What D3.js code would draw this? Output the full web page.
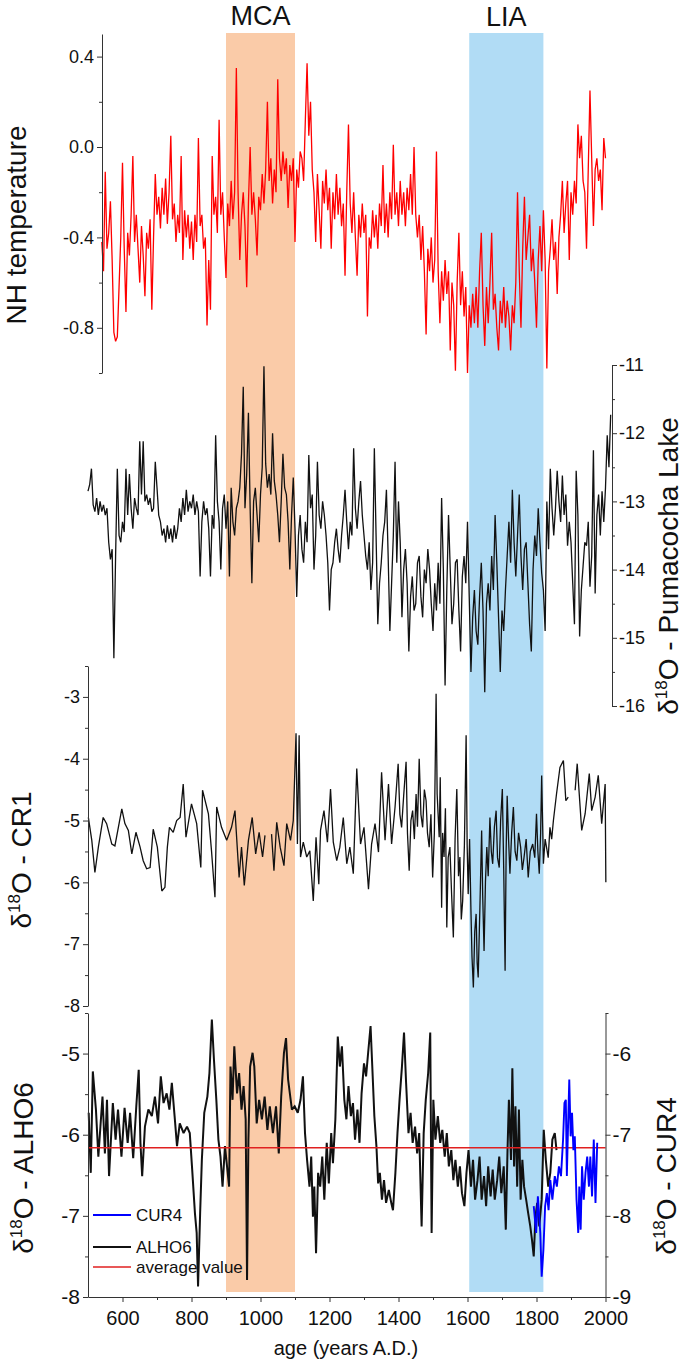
<!DOCTYPE html>
<html>
<head>
<meta charset="utf-8">
<script src="https://cdnjs.cloudflare.com/ajax/libs/d3/7.8.5/d3.min.js"></script>
<style>
  body { margin: 0; background: #fff; }
  text { font-family: "Liberation Sans", Arial, sans-serif; }
</style>
</head>
<body>
<div id="chart"></div>
<script>
// ---- data ----
var periodNames = ["MCA", "LIA"];
var periodStart = [900, 1605];
var periodEnd = [1100, 1820];
var periodColors = ["#facba8", "#b1dcf5"];

var yearTicks = [600, 800, 1000, 1200, 1400, 1600, 1800, 2000];
var yearMinor = [700, 900, 1100, 1300, 1500, 1700, 1900];

// NH temperature, one value every 5 years from 540
var nhStart = 540, nhStep = 5;
var nhTemp = [
  -0.42,-0.55,-0.11,-0.45,-0.38,-0.24,-0.5,-0.82,-0.86,-0.84,
  -0.62,-0.4,-0.07,-0.45,-0.73,-0.38,-0.48,-0.3,-0.04,-0.42,
  -0.3,-0.45,-0.6,-0.35,-0.48,-0.66,-0.38,-0.45,-0.32,-0.72,
  -0.4,-0.12,-0.3,-0.22,-0.36,-0.18,-0.3,-0.14,-0.34,-0.2,
  0.05,-0.32,-0.25,-0.42,-0.3,-0.38,-0.04,-0.5,-0.28,-0.4,
  -0.3,-0.45,-0.33,-0.5,-0.3,-0.42,0.04,-0.35,-0.3,-0.45,
  -0.4,-0.79,-0.5,-0.72,-0.04,-0.3,-0.22,-0.38,0.12,-0.3,
  -0.2,-0.4,-0.58,-0.25,-0.35,-0.15,-0.32,-0.2,0.35,-0.2,
  -0.5,-0.3,-0.2,-0.35,-0.62,-0.25,0.0,-0.3,-0.2,-0.32,
  -0.48,-0.22,-0.28,-0.12,-0.25,-0.1,0.2,-0.15,-0.05,-0.25,
  -0.1,-0.2,0.3,-0.05,-0.15,-0.02,-0.12,-0.05,-0.27,-0.08,
  -0.15,-0.05,-0.42,-0.1,-0.18,-0.02,-0.05,-0.15,0.12,0.37,
  0.05,0.2,-0.1,-0.2,-0.42,-0.12,-0.28,-0.45,-0.15,-0.25,
  -0.1,-0.28,-0.18,-0.45,-0.2,-0.32,-0.12,-0.3,-0.18,-0.35,
  -0.25,-0.57,-0.2,0.1,-0.25,-0.38,-0.2,-0.4,-0.57,-0.3,
  -0.4,-0.25,-0.38,-0.3,-0.75,-0.4,-0.45,-0.28,-0.4,-0.3,
  -0.45,-0.25,-0.35,-0.08,-0.38,-0.25,-0.4,-0.2,-0.32,0.01,
  -0.3,-0.2,-0.35,-0.15,-0.3,-0.2,-0.35,-0.18,-0.28,-0.12,
  -0.3,0.0,-0.3,-0.4,-0.3,-0.5,-0.35,-0.55,-0.83,-0.45,
  -0.55,-0.4,-0.6,-0.5,-0.02,-0.55,-0.78,-0.55,-0.68,-0.5,
  -0.65,-0.55,-0.9,-0.6,-0.7,-0.99,-0.6,-0.38,-0.7,-0.55,
  -0.75,-0.62,-1.0,-0.7,-0.8,-0.65,-0.78,-0.62,-0.8,-0.55,
  -0.38,-0.7,-0.88,-0.62,-0.78,-0.6,-0.38,-0.72,-0.65,-0.8,
  -0.9,-0.68,-0.78,-0.62,-0.8,-0.68,-0.75,-0.9,-0.7,-0.78,
  -0.6,-0.2,-0.55,-0.8,-0.45,-0.22,-0.5,-0.4,-0.3,-0.55,
  -0.45,-0.6,-0.8,-0.5,-0.35,-0.55,-0.28,-0.5,-0.98,-0.55,
  -0.45,-0.32,-0.5,-0.42,-0.65,-0.4,-0.3,-0.15,-0.38,-0.25,
  -0.15,-0.5,-0.2,-0.3,-0.15,-0.25,0.1,-0.05,0.05,-0.15,
  -0.2,-0.45,-0.1,0.25,-0.05,-0.35,-0.1,-0.05,-0.15,-0.1,
  -0.28,0.04,-0.05
];
var nhTicks = [-0.8, -0.4, 0.0, 0.4];
var nhMinor = [-1.0, -0.6, -0.2, 0.2];

// Pumacocha Lake d18O, every 5 years from 500
var pumaStart = 500, pumaStep = 5;
var pumaD18O = [
  -12.85,-12.75,-12.52,-13.05,-13.15,-12.95,-13.2,-13.0,-13.15,-13.05,
  -13.2,-13.1,-13.6,-13.85,-13.7,-15.3,-13.8,-12.52,-13.5,-13.6,
  -13.3,-13.45,-12.52,-13.2,-12.6,-13.1,-13.4,-12.95,-13.1,-13.2,
  -12.12,-12.9,-12.12,-13.0,-12.9,-13.05,-12.95,-13.15,-13.1,-12.42,
  -12.8,-13.2,-13.3,-13.5,-13.4,-13.6,-13.35,-13.55,-13.4,-13.6,
  -13.35,-13.55,-13.4,-13.1,-13.3,-12.95,-13.2,-12.83,-13.15,-13.0,
  -13.1,-12.9,-13.2,-13.0,-13.15,-14.1,-13.3,-13.0,-13.2,-13.1,
  -13.4,-14.1,-13.2,-13.4,-12.03,-13.0,-13.3,-14.0,-13.1,-12.9,
  -13.4,-13.0,-14.1,-12.8,-13.3,-13.5,-13.1,-13.0,-12.8,-12.3,
  -11.32,-13.1,-12.6,-11.7,-13.1,-14.2,-13.0,-12.8,-13.2,-13.6,
  -12.9,-12.5,-11.02,-12.45,-12.8,-12.6,-12.9,-12.0,-12.7,-12.9,
  -13.2,-13.6,-13.0,-12.3,-12.8,-12.9,-13.3,-14.0,-13.2,-12.65,
  -13.4,-14.4,-13.5,-13.2,-13.7,-13.9,-13.3,-13.6,-12.32,-13.1,
  -12.9,-14.0,-13.5,-12.42,-13.2,-13.4,-13.0,-13.2,-13.5,-13.9,
  -14.6,-14.0,-13.9,-13.6,-13.4,-13.7,-13.9,-13.5,-13.2,-12.83,
  -13.3,-13.7,-13.3,-13.5,-12.22,-13.1,-13.4,-13.0,-12.7,-13.2,
  -13.5,-13.8,-14.0,-13.6,-14.3,-13.9,-12.22,-13.5,-14.8,-14.2,
  -13.9,-13.5,-13.3,-12.83,-13.8,-14.9,-14.2,-13.5,-12.42,-13.9,
  -13.0,-13.6,-14.7,-14.0,-13.7,-14.2,-15.2,-14.4,-14.1,-14.6,
  -14.5,-13.9,-13.8,-14.4,-14.7,-14.0,-14.2,-13.7,-14.0,-14.5,
  -14.9,-14.2,-14.6,-13.9,-14.5,-12.95,-14.0,-15.7,-14.3,-13.2,
  -14.0,-14.8,-14.5,-13.9,-13.85,-14.6,-15.2,-14.1,-13.8,-14.2,
  -13.3,-14.4,-15.5,-14.7,-14.3,-14.9,-15.1,-14.4,-13.9,-14.6,
  -15.8,-14.5,-14.2,-14.6,-13.8,-14.3,-13.2,-13.9,-14.7,-15.5,
  -14.6,-14.9,-14.3,-13.8,-13.3,-13.9,-12.83,-13.6,-14.1,-13.5,
  -12.9,-13.8,-14.3,-13.7,-13.6,-14.2,-14.8,-15.2,-14.0,-13.5,
  -13.8,-13.1,-13.6,-14.05,-14.3,-14.9,-13.0,-13.7,-12.52,-13.1,
  -13.5,-13.1,-12.55,-13.0,-13.3,-12.62,-13.2,-12.9,-13.65,-13.3,
  -13.6,-14.2,-14.8,-12.55,-13.2,-14.98,-14.3,-13.95,-13.6,-13.65,
  -13.3,-14.25,-13.8,-12.25,-14.35,-13.2,-12.9,-13.5,-12.85,-13.3,
  -12.8,-12.03,-12.5,-11.73
];
var pumaTicks = [-16, -15, -14, -13, -12, -11];
var pumaMinor = [-15.5, -14.5, -13.5, -12.5, -11.5];

// CR1 d18O (null = gap in the record)
var cr1Years = [
  501,511,520,530,544,554,569,578,598,607,
  617,627,639,651,660,670,680,689,701,714,
  723,730,736,747,757,767,776,784,800,815,
  827,832,849,858,868,873,887,902,916,926,
  938,945,953,965,976,986,996,1006,1013,1020,
  1032,1039,1047,1057,1068,1076,1087,1095,1103,1107,
  1112,1116,1124,1134,1143,1153,1161,1169,1174,1184,
  1194,1203,1211,1221,1230,1240,1250,1259,1269,1279,
  1290,1300,1313,1322,1332,1342,1351,1361,1371,1380,
  1390,1399,1404,1409,1415,1422,1426,1431,1436,1441,
  1446,1451,1455,1460,1465,1470,1475,1480,1484,1489,
  1494,1499,1504,1509,1512,1518,1521,1525,1528,1532,
  1536,1540,1544,1549,1554,1559,1564,1569,1574,1578,
  1582,1586,1591,1596,1599,1602,1606,1610,1613,1617,
  1621,1625,1628,1631,1636,1641,1644,1648,1652,1656,
  1660,1665,1669,1673,1678,1683,1687,1692,1696,1701,
  1705,1709,1712,1715,1719,1723,1728,1733,1738,1743,
  1748,1754,1759,1764,1770,1776,1782,1789,1795,1800,
  1804,1808,1812,1815,1820,1825,1829,1834,1839,1844,
  1849,1858,1868,1878,1885,1892,1900,1912,1918,1931,
  1941,1953,1960,1970,1979,1989,1999,2001];
var cr1D18O = [
  -4.95,-5.32,-5.84,-5.43,-4.95,-5.05,-5.38,-5.41,-4.81,-5.05,
  -5.16,-5.54,-5.19,-5.43,-5.65,-5.78,-5.76,-5.14,-5.43,-6.14,
  -6.08,-5.43,-5.11,-5.19,-5.0,-4.95,-4.41,-5.27,-4.73,-5.05,
  -5.76,-4.51,-4.89,-5.49,-6.24,-4.78,-5.11,-5.32,-5.11,-4.84,
  -5.92,-5.43,-6.05,-5.32,-4.95,-5.54,-5.19,-5.59,-5.24,null,
  -5.22,-5.81,-5.03,-5.43,-5.73,-5.05,-5.32,-5.0,-3.59,-5.38,
  -3.62,-5.59,-5.35,-5.59,-5.49,-6.3,-5.27,-6.03,-5.16,-4.84,
  -5.35,-4.49,-5.35,-5.65,-5.43,-4.95,-5.7,-5.43,-5.86,-4.16,
  -5.38,-5.11,-6.11,-5.38,-5.05,-5.51,-4.22,-5.32,-4.41,-5.38,
  -4.78,-4.08,-4.9,-5.11,-4.6,-4.05,-5.2,-5.81,-5.0,-4.84,
  -5.3,-4.57,-5.1,-4.0,-4.9,-5.11,-4.5,-4.68,-5.2,-5.43,
  -4.9,-5.92,-5.2,-2.95,-4.57,-5.27,-4.3,-6.41,-5.2,-5.59,
  -4.8,-6.73,-5.6,-5.43,-6.2,-6.89,-5.3,-4.49,-5.9,-5.59,
  -6.6,-6.3,-5.4,-3.62,-5.4,-6.19,-5.3,-6.46,-7.2,-7.7,
  -6.8,-6.51,-7.3,-7.54,-6.4,-5.16,-6.2,-7.11,-6.0,-5.43,
  -5.9,-4.95,-5.5,-5.7,-5.1,-4.84,-5.6,-5.76,-5.0,-4.49,
  -5.8,-7.43,-5.5,-4.6,-5.3,-5.86,-5.2,-4.78,-5.5,-5.65,
  -5.2,-5.43,-5.8,-5.59,-5.3,-5.92,-5.5,-5.38,-5.6,-4.89,
  -5.5,-5.86,-5.2,-4.27,-5.7,-5.3,-5.43,-5.6,-5.11,-5.3,
  -5.0,-4.57,-4.14,-4.03,-4.68,-4.62,null,-4.51,-4.08,-5.16,
  -4.89,-4.24,-4.84,-4.62,-4.27,-5.05,-4.41,-6.0];
var cr1Ticks = [-8, -7, -6, -5, -4, -3];
var cr1Minor = [-7.5, -6.5, -5.5, -4.5, -3.5, -2.5];

// ALHO6 d18O (left axis)
var alhoYears = [502,508,514,523,530,536,542,549,555,561,572,580,587,597,606,615,622,631,640,647,
  652,657,665,675,685,694,703,711,719,728,736,743,751,758,766,777,787,795,802,810,
  815,819,825,830,837,846,852,859,865,872,878,884,890,897,903,909,913,919,924,932,
  938,945,951,957,961,965,970,977,982,989,996,1004,1012,1020,1027,1036,1045,1053,1060,1068,
  1074,1080,1091,1099,1108,1116,1123,1129,1135,1142,1147,1152,1156,1161,1167,1173,1179,1185,1192,1198,
  1205,1210,1217,1224,1230,1236,1243,1249,1255,1262,1268,1274,1281,1287,1293,1300,1306,1312,1319,1324,
  1330,1336,1341,1346,1352,1358,1364,1372,1379,1384,1391,1397,1403,1410,1416,1422,1429,1435,1441,1448,
  1454,1460,1467,1473,1479,1486,1492,1496,1501,1507,1514,1521,1527,1534,1540,1546,1553,1559,1565,1572,
  1578,1584,1591,1597,1603,1610,1616,1622,1629,1635,1641,1648,1654,1660,1667,1673,1679,1686,1692,1698,
  1705,1711,1716,1720,1726,1730,1735,1739,1744,1749,1754,1759,1764,1770,1776,1782,1787,1792,1797,1802,
  1808,1815,1821,1827,1834,1840,1846,1853,1858];
var alhoD18O = [-5.73,-6.47,-5.22,-5.69,-6.27,-5.9,-5.53,-6.23,-5.57,-6.51,-5.61,-6.06,-5.69,-6.27,-5.67,-6.1,-5.73,-6.29,-5.65,-5.2,
  -6.1,-6.51,-5.9,-5.69,-5.77,-5.53,-5.86,-5.28,-5.61,-5.49,-5.69,-5.36,-5.77,-6.14,-5.86,-5.98,-5.9,-5.98,-6.43,-6.97,
  -7.21,-7.87,-6.97,-6.31,-5.73,-5.53,-5.24,-4.58,-5.07,-5.57,-6.06,-6.27,-6.64,-6.14,-6.39,-6.64,-5.16,-5.57,-4.91,-5.49,
  -5.24,-5.69,-5.4,-5.81,-7.79,-6.06,-5.16,-4.99,-5.16,-5.86,-5.57,-5.81,-5.53,-5.94,-5.65,-5.98,-5.65,-6.23,-5.53,-4.99,
  -4.81,-5.32,-5.69,-5.65,-5.73,-5.57,-5.28,-5.98,-6.31,-6.64,-6.27,-7.01,-6.64,-7.46,-6.47,-6.64,-6.27,-6.8,-6.1,-6.6,
  -5.98,-6.35,-5.81,-4.79,-5.16,-4.91,-5.57,-5.81,-5.4,-5.77,-5.61,-6.06,-5.69,-6.1,-5.49,-5.12,-5.28,-4.99,-4.66,-5.16,
  -5.77,-6.14,-6.6,-6.47,-6.8,-6.56,-6.84,-6.68,-6.84,-6.93,-6.47,-5.98,-5.57,-5.16,-4.74,-5.36,-5.98,-5.73,-6.1,-5.9,
  -6.23,-5.98,-7.13,-5.98,-5.57,-5.24,-4.74,-7.21,-5.57,-6.06,-5.77,-6.1,-5.94,-6.27,-5.98,-6.39,-6.19,-6.56,-6.31,-6.64,
  -6.39,-6.72,-6.88,-6.47,-6.19,-6.64,-6.31,-6.8,-6.56,-6.27,-6.8,-6.51,-6.88,-6.39,-6.76,-6.43,-6.8,-6.56,-6.27,-6.72,
  -6.39,-7.17,-6.19,-5.57,-6.31,-5.18,-6.39,-5.65,-6.64,-5.69,-6.8,-6.31,-6.64,-6.8,-6.97,-7.13,-7.3,-7.5,-7.01,-6.84,
  -7.13,-6.8,-5.94,-6.31,-6.64,-6.47,-6.06,-5.98,-6.19];
var alhoAverage = -6.16;
var alhoTicks = [-8, -7, -6, -5];
var alhoMinor = [-7.5, -6.5, -5.5, -4.5];

// CUR4 d18O (right axis)
var cur4Years = [1792,1799,1804,1811,1815,1820,1825,1830,1835,1840,1846,1853,1859,1865,1871,1877,1881,1885,1888,1891,
  1895,1899,1903,1907,1911,1916,1921,1924,1928,1932,1937,1942,1947,1952,1956,1961,1966,1971,1976];
var cur4D18O = [-7.88,-8.21,-7.76,-8.21,-8.75,-8.42,-7.88,-7.72,-7.93,-7.56,-7.8,-7.51,-7.64,-7.39,-7.51,-7.06,-6.61,-6.57,-7.51,-6.98,
  -6.32,-7.02,-6.73,-7.19,-7.02,-7.8,-8.21,-7.64,-8.17,-7.39,-7.8,-7.47,-7.27,-7.64,-7.27,-7.76,-7.06,-7.84,-7.1];
var cur4Ticks = [-9, -8, -7, -6];
var cur4Minor = [-8.5, -7.5, -6.5, -5.5];

var legendNames = ["CUR4", "ALHO6", "average value"];
var legendColors = ["#0000ff", "#111111", "#e02020"];

// ---- drawing ----
var svg = d3.select("#chart").append("svg")
  .attr("width", 685)
  .attr("height", 1363);

var x = d3.scaleLinear().domain([500, 2000]).range([88, 605.5]);

var yNH = d3.scaleLinear().domain([-1.0, 0.5]).range([373, 34]);
var yPuma = d3.scaleLinear().domain([-16, -11]).range([706, 365]);
var yCR1 = d3.scaleLinear().domain([-8, -2.5]).range([1006, 666]);
var yAlho = d3.scaleLinear().domain([-8, -4.5]).range([1297, 1013]);
var yCur = d3.scaleLinear().domain([-9, -5.5]).range([1297, 1013]);

// shaded periods
periodNames.forEach(function(name, i) {
  svg.append("rect")
    .attr("x", x(periodStart[i]))
    .attr("y", 33)
    .attr("width", x(periodEnd[i]) - x(periodStart[i]))
    .attr("height", 1292 - 33)
    .attr("fill", periodColors[i]);
  svg.append("text")
    .attr("x", (x(periodStart[i]) + x(periodEnd[i])) / 2)
    .attr("y", i == 0 ? 25 : 26)
    .attr("text-anchor", "middle")
    .attr("font-size", 27)
    .attr("fill", "#111")
    .text(name);
});

function drawLine(years, values, yScale, color, w) {
  var pts = years.map(function(yr, i) { return [yr, values[i]]; });
  var line = d3.line()
    .defined(function(d) { return d[1] != null; })
    .x(function(d) { return x(d[0]); })
    .y(function(d) { return yScale(d[1]); });
  svg.append("path")
    .datum(pts)
    .attr("d", line)
    .attr("fill", "none")
    .attr("stroke", color)
    .attr("stroke-width", w)
    .attr("stroke-linejoin", "miter")
    .attr("stroke-miterlimit", 2);
}

var nhYears = nhTemp.map(function(d, i) { return nhStart + i * nhStep; });
var pumaYears = pumaD18O.map(function(d, i) { return pumaStart + i * pumaStep; });

drawLine(nhYears, nhTemp, yNH, "#ff0000", 1.3);
drawLine(pumaYears, pumaD18O, yPuma, "#111", 1.3);
drawLine(cr1Years, cr1D18O, yCR1, "#111", 1.3);
drawLine(alhoYears, alhoD18O, yAlho, "#111", 2);

// average line, drawn over the ALHO6 record
svg.append("line")
  .attr("x1", x(500)).attr("x2", x(2000))
  .attr("y1", yAlho(alhoAverage)).attr("y2", yAlho(alhoAverage))
  .attr("stroke", "#e02020")
  .attr("stroke-width", 1.6);

drawLine(cur4Years, cur4D18O, yCur, "#0000ff", 1.9);

// axes
function addAxis(axisFn, scale, ticks, minor, fmt, pos, fontSize, pad) {
  var g = svg.append("g")
    .attr("transform", pos)
    .call(axisFn(scale).tickValues(ticks).tickSize(5).tickSizeOuter(0).tickPadding(pad).tickFormat(fmt));
  g.attr("font-family", null).attr("font-size", fontSize);
  g.selectAll("text").attr("fill", "#111").attr("font-family", '"Liberation Sans", Arial, sans-serif');
  g.selectAll("line").attr("stroke", "#333");
  g.select(".domain").attr("stroke", "#333");

  var m = svg.append("g")
    .attr("transform", pos)
    .call(axisFn(scale).tickValues(minor).tickSize(3).tickFormat(""));
  m.select(".domain").remove();
  m.selectAll("line").attr("stroke", "#333");
}

var fmt1 = function(d) { return d.toFixed(1); };
var fmt0 = function(d) { return d.toFixed(0); };

addAxis(d3.axisLeft, yNH, nhTicks, nhMinor, fmt1, "translate(102,0)", 18, 3);
addAxis(d3.axisRight, yPuma, pumaTicks, pumaMinor, fmt0, "translate(612,0)", 18, 2);
addAxis(d3.axisLeft, yCR1, cr1Ticks, cr1Minor, fmt0, "translate(88,0)", 18, 3);
addAxis(d3.axisLeft, yAlho, alhoTicks, alhoMinor, fmt0, "translate(88,0)", 21, 3);
addAxis(d3.axisRight, yCur, cur4Ticks, cur4Minor, fmt0, "translate(605.5,0)", 21, 2);
addAxis(d3.axisBottom, x, yearTicks, yearMinor, fmt0, "translate(0,1297)", 20, 9);

// axis titles
function deltaTitle(px, py, rest) {
  var t = svg.append("text")
    .attr("transform", "translate(" + px + "," + py + ") rotate(-90)")
    .attr("text-anchor", "middle")
    .attr("font-size", 28)
    .attr("fill", "#111");
  t.append("tspan").text("\u03b4");
  t.append("tspan").attr("font-size", 17).attr("dy", -11).text("18");
  t.append("tspan").attr("dy", 11).text("O - " + rest);
}

svg.append("text")
  .attr("transform", "translate(26,225) rotate(-90)")
  .attr("text-anchor", "middle")
  .attr("font-size", 28)
  .attr("fill", "#111")
  .text("NH temperature");

deltaTitle(678, 566, "Pumacocha Lake");
deltaTitle(31, 860, "CR1");
deltaTitle(33, 1168, "ALHO6");
deltaTitle(676, 1176, "CUR4");

svg.append("text")
  .attr("x", 346)
  .attr("y", 1355)
  .attr("text-anchor", "middle")
  .attr("font-size", 20)
  .attr("fill", "#111")
  .text("age (years A.D.)");

// legend
var legendY = [1215, 1247, 1267];
legendNames.forEach(function(name, i) {
  svg.append("line")
    .attr("x1", 93).attr("x2", 131)
    .attr("y1", legendY[i]).attr("y2", legendY[i])
    .attr("stroke", legendColors[i])
    .attr("stroke-width", i == 2 ? 1.5 : 2);
  svg.append("text")
    .attr("x", 136)
    .attr("y", legendY[i])
    .attr("dy", "0.35em")
    .attr("font-size", 17)
    .attr("fill", "#111")
    .text(name);
});
</script>
</body>
</html>
